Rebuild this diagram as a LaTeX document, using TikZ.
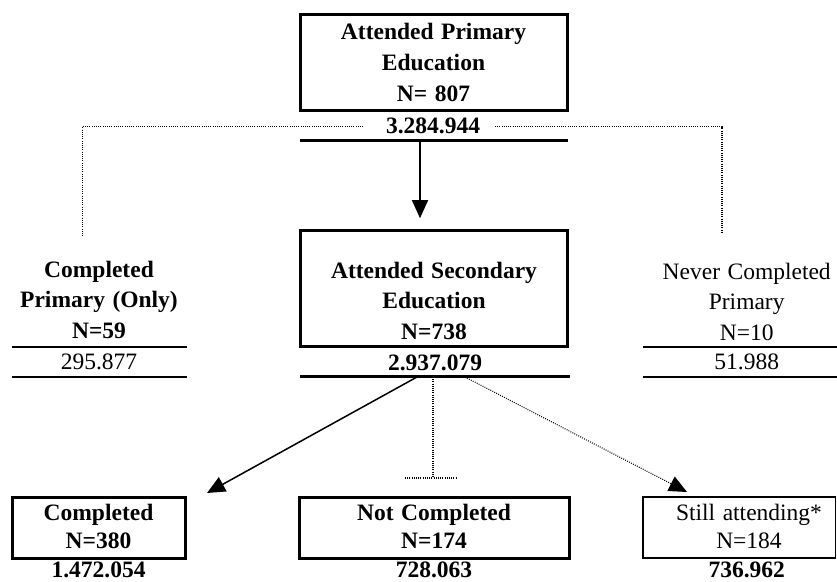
\documentclass[tikz,border=0pt]{standalone}
\usepackage{fontspec}
\setmainfont{Liberation Serif}
\usetikzlibrary{arrows.meta}
\newcommand\ls{\rule[-5pt]{0pt}{27pt}}
\newcommand\fntA{\fontsize{23.5}{30.5}\selectfont}
\newcommand\fntT{\fontsize{23.5}{31}\selectfont}
\newcommand\fntB{\fontsize{23.5}{28}\selectfont}
\newcommand\wsp{\spaceskip 7.5pt plus 1pt\relax}
\begin{document}
\begin{tikzpicture}[x=1pt,y=-1pt,
  txt/.style={inner sep=0pt, align=center, anchor=north, font=\fntA, execute at begin node=\wsp},
  btxt/.style={txt, font=\fntA\bfseries},
  btxtT/.style={txt, font=\fntT\bfseries},
  btxtB/.style={txt, font=\fntB\bfseries},
  txtB/.style={txt, font=\fntB},
  val/.style={inner sep=0pt, anchor=base, font=\fntA},
  bval/.style={val, font=\fntA\bfseries},
  frame/.style={draw, line width=3pt, inner sep=0pt},
  thinframe/.style={draw, line width=1.3pt, inner sep=0pt},
  thickline/.style={line width=3pt},
  thinline/.style={line width=1.6pt},
  dotline/.style={line width=1.1pt, dash pattern=on 0.9pt off 1.3pt},
  tip/.style={-{Triangle[length=18pt,width=16pt]}}
]
\useasboundingbox (0,0) rectangle (837,581);

% top box
\node[frame, minimum width=267pt, minimum height=96pt] (topbox) at (433.5,62) {};
\node[btxtT] (toptxt) at (433.5,17.3) {\ls Attended Primary\\\ls Education\\\ls N= 807};
\node[bval] (topval) at (433,133) {3.284.944};
\coordinate (u1l) at (300,140);
\coordinate (u1r) at (568,140);
\draw[thickline] (u1l) -- (u1r);

% dotted branches from the top
\coordinate (dl1) at (363,126.5);
\coordinate (dl2) at (82.3,237);
\coordinate (dr1) at (495,126.5);
\coordinate (dr2) at (722,233);
\draw[dotline] (dl1) -| (dl2);
\draw[dotline] (dr1) -| (dr2);

% middle box
\node[frame, minimum width=267.7pt, minimum height=116pt] (midbox) at (433.85,288.7) {};
\node[btxt] (midtxt) at (434,256) {\ls Attended Secondary\\\ls Education\\\ls N=738};
\node[bval] (midval) at (435,370) {2.937.079};
\coordinate (u2l) at (300,376);
\coordinate (u2r) at (570,376);
\draw[thickline] (u2l) -- (u2r);

% top arrow
\coordinate (a1s) at (420,142);
\draw[line width=1.5pt, tip, shorten >=11pt] (a1s) -- (a1s |- midbox.north);

% left column
\node[btxt] (lefttxt) at (99,255) {\ls Completed\\\ls Primary (Only)\\\ls N=59};
\node[val] (leftval) at (99,369) {295.877};
\coordinate (l1l) at (12,347);
\coordinate (l1r) at (187,347);
\coordinate (l2l) at (12,377);
\coordinate (l2r) at (187,377);
\draw[thinline] (l1l) -- (l1r);
\draw[thinline] (l2l) -- (l2r);

% right column
\node[txt] (righttxt) at (746.7,257) {\ls Never Completed\\\ls Primary\\\ls N=10};
\node[val] (rightval) at (746.7,369) {51.988};
\coordinate (r1l) at (643,347);
\coordinate (r1r) at (837,347);
\coordinate (r2l) at (643,377);
\coordinate (r2r) at (837,377);
\draw[thinline] (r1l) -- (r1r);
\draw[thinline] (r2l) -- (r2r);

% bottom boxes
\node[frame, minimum width=173pt, minimum height=61pt] (b1box) at (98.5,527.5) {};
\node[btxtB] (b1txt) at (98.5,498) {\ls Completed\\\ls N=380};
\node[bval] (b1val) at (98.5,577.5) {1.472.054};

\node[frame, minimum width=270pt, minimum height=61pt] (b2box) at (434,527.5) {};
\node[btxtB] (b2txt) at (434,498) {\ls Not Completed\\\ls N=174};
\node[bval] (b2val) at (434,577.5) {728.063};

\node[thinframe, minimum width=192.5pt, minimum height=61pt] (b3box) at (739.25,527.5) {};
\node[txtB] (b3txt) at (749,498) {\ls Still attending*\\\ls N=184};
\node[bval] (b3val) at (746.7,577.5) {736.962};

% lower connectors
\coordinate (s1) at (417,377);
\coordinate (s1e) at (207,493);
\draw[line width=1.5pt, tip] (s1) -- (s1e);

\coordinate (s2) at (433,377);
\coordinate (s2e) at (433,478);
\coordinate (t2l) at (405,478);
\coordinate (t2r) at (457,478);
\draw[dotline] (s2) -- (s2e);
\draw[dotline] (t2l) -- (t2r);

\coordinate (s3) at (465,377);
\coordinate (s3e) at (687,492);
\draw[dotline, tip] (s3) -- (s3e);
\end{tikzpicture}
\end{document}
